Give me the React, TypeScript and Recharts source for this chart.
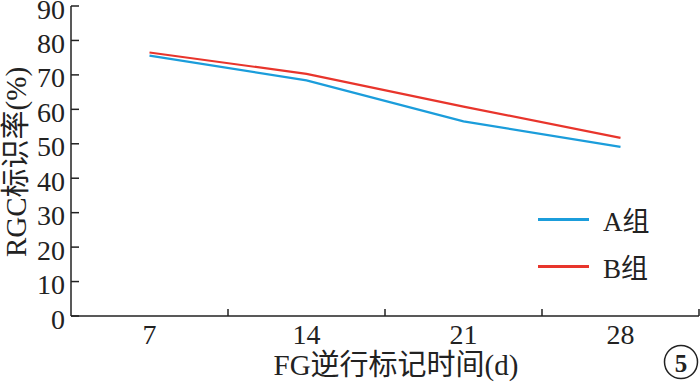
import React from "react"
import { LineChart, Line, XAxis, YAxis } from "recharts"

// FG retrograde labelling day
const days = [7, 14, 21, 28]
// RGC labelling rate (%)
const groupA = [75.6, 68.4, 56.5, 49.1]
const groupB = [76.5, 70.3, 60.8, 51.7]

const yTicks = [0, 10, 20, 30, 40, 50, 60, 70, 80, 90]
// labels sit at 7/14/21/28, the little marks sit between them
const xTicks = [7, 10.5, 14, 17.5, 21, 24.5, 28, 31.5]

const series = [
  { key: "A", name: "A组", color: "#1b9ddb" },
  { key: "B", name: "B组", color: "#e8352c" },
]

const FONT = "'Liberation Serif', 'Noto Sans CJK SC', serif"

const data = days.map((d, i) => ({ day: d, A: groupA[i], B: groupB[i] }))

const YTick = (props: any) => {
  const { x, y, payload } = props
  return (
    <g>
      <line x1={x} x2={x + 8} y1={y} y2={y} stroke="#222" strokeWidth={1.5} />
      <text x={x - 6} y={y + 3} textAnchor="end" dominantBaseline="central" fontSize={28} fontFamily={FONT} fill="#222">
        {payload.value}
      </text>
    </g>
  )
}

const XTick = (props: any) => {
  const { x, y, payload } = props
  if (payload.value % 7 !== 0) {
    return <line x1={x} x2={x} y1={y} y2={y - 7} stroke="#222" strokeWidth={1.5} />
  }
  return (
    <text x={x} y={y + 18} textAnchor="middle" dominantBaseline="central" fontSize={28} fontFamily={FONT} fill="#222">
      {payload.value}
    </text>
  )
}

export default function App() {
  return (
    <div style={{ position: "absolute", left: 0, top: 0, width: 700, height: 388, background: "#fff" }}>
      <LineChart width={700} height={388} data={data} margin={{ top: 6, right: 1, bottom: 0, left: 0 }}>
        <XAxis
          dataKey="day"
          type="number"
          domain={[3.5, 31.5]}
          ticks={xTicks}
          interval={0}
          height={72}
          tickSize={0}
          tickMargin={0}
          tickLine={false}
          tick={<XTick />}
          axisLine={{ stroke: "#222", strokeWidth: 1.5 }}
          label={{
            content: () => (
              <g>
                <text x={396} y={365} textAnchor="middle" dominantBaseline="central" fontSize={29} fontFamily={FONT} fill="#222">
                  FG逆行标记时间(d)
                </text>
                <circle cx={681} cy={362} r={16.5} fill="none" stroke="#222" strokeWidth={1.5} />
                <text x={681} y={363} textAnchor="middle" dominantBaseline="central" fontSize={25} fontWeight="bold" fontFamily={FONT} fill="#222">
                  5
                </text>
              </g>
            ),
          }}
        />
        <YAxis
          domain={[0, 90]}
          ticks={yTicks}
          interval={0}
          width={71}
          tickSize={0}
          tickMargin={0}
          tickLine={false}
          tick={<YTick />}
          axisLine={{ stroke: "#222", strokeWidth: 1.5 }}
          label={{
            content: () => (
              <text
                x={16}
                y={162}
                transform="rotate(-90, 16, 162)"
                textAnchor="middle"
                dominantBaseline="central"
                fontSize={29}
                fontFamily={FONT}
                fill="#222"
              >
                RGC标识率(%)
              </text>
            ),
          }}
        />
        {series.map((s) => (
          <Line
            key={s.key}
            type="linear"
            dataKey={s.key}
            name={s.name}
            stroke={s.color}
            strokeWidth={2.2}
            dot={false}
            isAnimationActive={false}
          />
        ))}
      </LineChart>
      <div style={{ position: "absolute", left: 538, top: 196, fontFamily: FONT, fontSize: 27, color: "#222" }}>
        {series.map((s) => (
          <div key={s.key} style={{ display: "flex", alignItems: "center", height: 47 }}>
            <span style={{ display: "inline-block", width: 51, height: 2.5, background: s.color, marginRight: 14 }} />
            <span>{s.name}</span>
          </div>
        ))}
      </div>
    </div>
  )
}
